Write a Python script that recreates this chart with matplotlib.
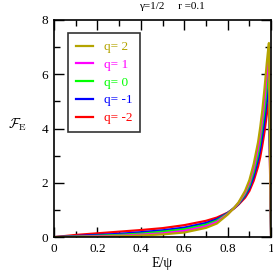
import numpy as np
import matplotlib.pyplot as plt
from matplotlib.ticker import MultipleLocator

plt.rcParams['font.family'] = ['Liberation Serif', 'DejaVu Serif']
plt.rcParams['mathtext.fontset'] = 'cm'

x = [0, 0.1, 0.2, 0.3, 0.4, 0.5, 0.6, 0.7, 0.75, 0.8, 0.83, 0.85, 0.88,
     0.9, 0.92, 0.94, 0.95, 0.96, 0.97, 0.98, 0.985, 0.99, 1.0]

f_qm2 = [0, 0.08, 0.14, 0.2, 0.26, 0.33, 0.44, 0.6, 0.72, 0.9, 1.06, 1.2, 1.45,
         1.7, 2.08, 2.6, 2.95, 3.4, 3.9, 4.5, 4.8, 5.05, 0]
f_qm1 = [0, 0.04, 0.08, 0.12, 0.18, 0.25, 0.35, 0.52, 0.66, 0.89, 1.07, 1.22, 1.52,
         1.8, 2.24, 2.85, 3.25, 3.75, 4.3, 5.0, 5.3, 5.6, 0]
f_q0 = [0, 0.02, 0.05, 0.08, 0.13, 0.2, 0.29, 0.46, 0.61, 0.87, 1.08, 1.24, 1.58,
        1.9, 2.4, 3.05, 3.52, 4.1, 4.7, 5.5, 5.9, 6.25, 0]
f_q1 = [0, 0.01, 0.03, 0.05, 0.09, 0.14, 0.23, 0.4, 0.56, 0.85, 1.08, 1.26, 1.64,
        2.0, 2.55, 3.27, 3.78, 4.4, 5.1, 5.95, 6.4, 6.85, 0]
f_q2 = [0, 0.005, 0.015, 0.03, 0.06, 0.1, 0.17, 0.34, 0.5, 0.83, 1.08, 1.28, 1.7,
        2.1, 2.7, 3.5, 4.05, 4.7, 5.5, 6.4, 6.8, 7.15, 0]

series = [(f_qm2, '#ff0000', 'q= -2'),
          (f_qm1, '#0000ff', 'q= -1'),
          (f_q0, '#00ff00', 'q= 0'),
          (f_q1, '#ff00ff', 'q= 1'),
          (f_q2, '#b4a400', 'q= 2')]

fig = plt.figure(figsize=(2.73, 2.77), dpi=100)
ax = fig.add_axes([0.198, 0.144, 0.795, 0.784])

handles = []
for ys, col, lab in series:
    h, = ax.plot(x, ys, color=col, lw=1.6, label=lab)
    handles.append(h)

ax.set_xlim(0, 1)
ax.set_ylim(0, 8)
ax.xaxis.set_minor_locator(MultipleLocator(0.1))
ax.yaxis.set_major_locator(MultipleLocator(2))
ax.yaxis.set_minor_locator(MultipleLocator(1))
ax.set_xticks([0, 0.2, 0.4, 0.6, 0.8, 1])
ax.set_xticklabels(['0', '0.2', '0.4', '0.6', '0.8', '1'])
ax.tick_params(which='both', direction='in', top=True, right=True,
               labelsize=9.5, width=1, pad=4)
ax.tick_params(which='major', length=7)
ax.tick_params(which='minor', length=4)
for s in ax.spines.values():
    s.set_linewidth(1.2)

ax.set_xlabel('E/ψ', fontsize=10, labelpad=2)
ax.set_ylabel(r'$\mathcal{F}_{\mathrm{E}}$', fontsize=10, rotation=0)
ax.yaxis.set_label_coords(-0.17, 0.48)
fig.text(0.63, 0.975, 'γ=1/2     r =0.1', ha='center', va='center', fontsize=8)

leg = ax.legend(handles=handles[::-1], loc='upper left',
                bbox_to_anchor=(0.065, 0.94), borderaxespad=0, fontsize=9.5,
                frameon=True, fancybox=False, edgecolor='black',
                handlelength=1.25, handletextpad=0.85, labelspacing=0.42,
                labelcolor='linecolor', borderpad=0.6)
leg.get_frame().set_linewidth(1.2)

fig.savefig('out.png', dpi=100)
